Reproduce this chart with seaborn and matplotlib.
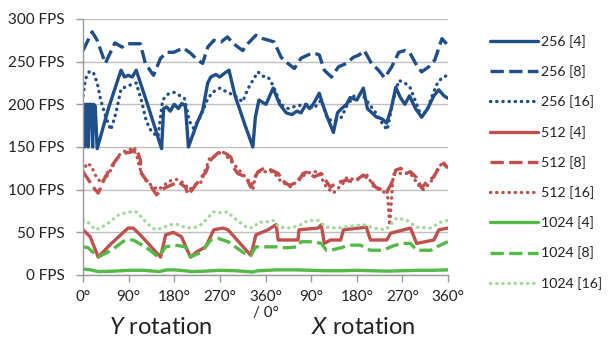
import matplotlib
matplotlib.use("Agg")
import matplotlib.pyplot as plt
import seaborn as sns

# ---- data (angle in degrees: 0-360 = Y rotation, 360-720 = X rotation) ----
deg_256_4 = [0, 3, 5, 8, 10, 12, 16, 19, 21, 24, 28, 50, 75, 82, 89, 97, 105, 130, 155, 159,
             165, 172, 180, 188, 195, 202, 208, 225, 236, 246, 252, 262, 270, 278, 288, 300,
             320, 335, 340, 347, 361, 375, 388, 401, 412, 422, 430, 440, 447, 454, 466, 474,
             482, 494, 502, 510, 520, 527, 540, 553, 561, 570, 579, 590, 599, 608, 617, 626,
             635, 644, 656, 668, 680, 692, 702, 712, 720]
fps_256_4 = [200, 150, 200, 200, 150, 200, 200, 150, 200, 198, 148, 195, 240, 232, 234, 232,
             240, 195, 148, 195, 197, 192, 200, 195, 201, 198, 150, 178, 193, 225, 232, 235,
             232, 236, 240, 210, 175, 150, 185, 205, 200, 219, 200, 190, 188, 192, 190, 200,
             195, 200, 213, 198, 185, 167, 190, 195, 200, 208, 205, 219, 195, 190, 185, 183,
             178, 195, 220, 208, 200, 210, 195, 185, 195, 210, 217, 210, 207]

deg_256_8 = [0, 18, 28, 44, 63, 77, 87, 103, 113, 123, 139, 153, 166, 179, 198, 212, 226, 236,
             246, 258, 272, 285, 297, 315, 325, 341, 355, 367, 377, 391, 404, 417, 430, 444,
             456, 466, 476, 490, 504, 520, 533, 545, 555, 569, 583, 595, 609, 623, 635, 645,
             658, 668, 682, 694, 708, 720]
fps_256_8 = [263, 285, 275, 248, 272, 267, 271, 271, 271, 248, 234, 254, 261, 261, 266, 260,
             252, 248, 267, 275, 273, 279, 271, 263, 271, 281, 277, 275, 273, 255, 248, 242,
             254, 258, 260, 258, 240, 232, 244, 248, 255, 258, 263, 248, 240, 231, 244, 261,
             263, 260, 246, 238, 244, 252, 277, 269]

deg_256_16 = [0, 5, 12, 20, 28, 35, 45, 55, 65, 75, 90, 105, 115, 125, 135, 148, 157, 168, 180,
              200, 210, 218, 232, 245, 255, 270, 285, 300, 315, 325, 335, 345, 355, 365, 375,
              390, 405, 420, 440, 455, 470, 482, 495, 510, 520, 535, 550, 565, 580, 590, 600,
              612, 623, 635, 645, 655, 668, 680, 690, 700, 710, 720]
fps_256_16 = [210, 230, 238, 238, 225, 205, 185, 170, 190, 218, 222, 225, 205, 180, 168, 162,
              205, 212, 214, 207, 180, 172, 186, 205, 214, 219, 214, 210, 203, 218, 228, 238,
              233, 232, 222, 200, 195, 198, 200, 195, 205, 183, 180, 185, 198, 210, 212, 200,
              188, 178, 170, 205, 228, 225, 220, 205, 185, 195, 212, 226, 232, 234]

deg_512_4 = [0, 14, 30, 56, 89, 99, 113, 153, 163, 178, 194, 212, 224, 242, 258, 276, 286, 331,
             341, 365, 381, 385, 405, 424, 426, 464, 470, 476, 488, 508, 514, 559, 567, 599,
             607, 646, 658, 692, 702, 720]
fps_512_4 = [53, 45, 21, 37, 55, 55, 47, 21, 47, 50, 45, 21, 27, 33, 53, 55, 53, 23, 47, 53,
             59, 41, 41, 41, 53, 55, 59, 37, 41, 41, 53, 56, 41, 41, 49, 55, 37, 41, 53, 55]

deg_512_8 = [0, 24, 30, 44, 56, 69, 83, 95, 105, 113, 115, 129, 145, 155, 165, 188, 202, 208,
             218, 234, 242, 252, 266, 278, 292, 297, 305, 321, 331, 337, 345, 357, 371, 385,
             397, 407, 424, 434, 444, 456, 470, 482, 488, 500, 520, 533, 553, 567, 577, 589,
             599, 609, 617, 627, 637, 646, 658, 668, 678, 692, 702, 712, 720]
fps_512_8 = [121, 100, 96, 115, 127, 138, 143, 144, 149, 135, 119, 108, 94, 100, 103, 109, 103,
             94, 102, 115, 120, 135, 143, 144, 138, 126, 119, 115, 103, 111, 121, 125, 123, 119,
             109, 105, 109, 119, 121, 115, 119, 108, 103, 108, 111, 109, 117, 111, 103, 100, 97,
             108, 123, 125, 119, 121, 114, 102, 109, 115, 126, 131, 125]

deg_512_16 = [0, 8, 16, 26, 36, 50, 70, 85, 98, 106, 112, 122, 135, 148, 158, 170, 185, 198,
              210, 222, 232, 250, 264, 274, 282, 296, 326, 331, 335, 341, 347, 357, 375, 390,
              410, 430, 450, 464, 480, 494, 514, 520, 540, 550, 558, 574, 584, 594, 600, 605,
              612, 627, 646, 666, 672, 686, 697, 708, 720]
fps_512_16 = [121, 131, 128, 115, 108, 118, 140, 146, 148, 140, 125, 112, 105, 100, 104, 110,
              112, 108, 100, 106, 108, 137, 140, 146, 140, 131, 111, 103, 100, 119, 121, 121,
              121, 110, 103, 115, 121, 121, 103, 96, 108, 114, 111, 115, 119, 103, 100, 97, 100,
              58, 118, 119, 119, 102, 100, 109, 121, 131, 126]

deg_1024_4 = [0, 15, 30, 60, 90, 120, 150, 165, 180, 200, 215, 240, 270, 300, 335, 345, 365, 380,
              420, 450, 480, 510, 540, 570, 600, 630, 660, 690, 720]
fps_1024_4 = [7, 6, 4, 4.5, 5.5, 5.5, 4, 6, 6, 5, 4, 4.5, 5.5, 5, 3.5, 5, 5.5, 6, 6, 5.5, 5, 5,
              5.5, 5, 4.5, 5, 5.5, 5.5, 6]

deg_1024_8 = [0, 10, 30, 56, 83, 99, 123, 149, 163, 182, 202, 212, 234, 252, 266, 286, 317, 331,
              341, 365, 381, 387, 405, 424, 430, 456, 470, 480, 488, 510, 524, 547, 567, 593,
              607, 627, 646, 658, 686, 698, 712, 720]
fps_1024_8 = [33, 32, 21, 29, 41, 41, 33, 21, 33, 35, 33, 21, 27, 41, 43, 39, 26, 23, 33, 33, 33,
              32, 32, 33, 39, 39, 37, 29, 29, 32, 35, 35, 29, 29, 33, 37, 37, 29, 29, 33, 37, 39]

deg_1024_16 = [0, 10, 24, 34, 50, 69, 89, 105, 115, 129, 143, 155, 173, 188, 204, 222, 236, 246,
               258, 272, 286, 295, 311, 325, 337, 347, 361, 375, 387, 410, 430, 444, 464, 480,
               500, 527, 553, 573, 597, 607, 619, 639, 658, 686, 706, 720]
fps_1024_16 = [64, 62, 53, 55, 61, 70, 74, 74, 68, 59, 53, 55, 59, 59, 55, 56, 60, 67, 74, 73,
               74, 68, 61, 55, 56, 62, 62, 64, 56, 55, 59, 64, 64, 56, 55, 57, 59, 55, 53, 59,
               67, 64, 56, 55, 62, 64]

tick_pos = [0, 90, 180, 270, 360, 450, 540, 630, 720]
tick_labels = ["0°", "90°", "180°", "270°", "360°\n/ 0°", "90°", "180°", "270°", "360°"]
ytick_pos = [0, 50, 100, 150, 200, 250, 300]

BLUE = "#1F4E89"
RED = "#C0504D"
GREEN = "#55B947"
LGREEN = "#A3D99A"

SOLID = "-"
DASH = (0, (4.0, 1.6))
DOT = (0, (0.1, 1.75))

series = [
    ("256 [4]", deg_256_4, fps_256_4, BLUE, SOLID),
    ("256 [8]", deg_256_8, fps_256_8, BLUE, DASH),
    ("256 [16]", deg_256_16, fps_256_16, BLUE, DOT),
    ("512 [4]", deg_512_4, fps_512_4, RED, SOLID),
    ("512 [8]", deg_512_8, fps_512_8, RED, DASH),
    ("512 [16]", deg_512_16, fps_512_16, RED, DOT),
    ("1024 [4]", deg_1024_4, fps_1024_4, GREEN, SOLID),
    ("1024 [8]", deg_1024_8, fps_1024_8, GREEN, DASH),
    ("1024 [16]", deg_1024_16, fps_1024_16, LGREEN, DOT),
]

sns.set_style("white")
plt.rcParams["font.family"] = ["Lato", "DejaVu Sans"]
plt.rcParams["mathtext.fontset"] = "custom"
plt.rcParams["mathtext.it"] = "Lato:italic"
plt.rcParams["mathtext.rm"] = "Lato"

fig = plt.figure(figsize=(6.08, 3.40), dpi=100)
ax = fig.add_axes([83 / 608, 1 - 275 / 340, (448 - 83) / 608, (275 - 19) / 340])

for name, xs, ys, col, ls in series:
    cap = "round" if ls == DOT else "butt"
    sns.lineplot(x=xs, y=ys, ax=ax, color=col, linestyle=ls, linewidth=2.4,
                 label=name, dash_capstyle=cap, solid_capstyle="round")

ax.set_xlim(0, 720)
ax.set_ylim(0, 300)
ax.set_xticks(tick_pos)
ax.set_xticklabels(tick_labels, fontsize=11, linespacing=1.15)
ax.set_yticks(ytick_pos)
ax.set_yticklabels([f"{v} FPS" for v in ytick_pos], fontsize=11)
ax.grid(axis="y", color="#C0C0C0", linewidth=1)
ax.set_axisbelow(True)
for s in ["top", "right"]:
    ax.spines[s].set_visible(False)
for s in ["left", "bottom"]:
    ax.spines[s].set_color("#9A9A9A")
    ax.spines[s].set_linewidth(1)
ax.tick_params(axis="both", direction="out", length=5, color="#9A9A9A", width=1,
               colors="#222222", labelcolor="#222222")
ax.tick_params(axis="y", pad=8)
ax.tick_params(axis="x", pad=6, bottom=True)
ax.tick_params(axis="y", left=True)

leg = ax.legend(loc="upper left", bbox_to_anchor=(490 / 608, 1 - 35 / 340),
                bbox_transform=fig.transFigure, frameon=False, fontsize=10.2,
                handlelength=3.4, handletextpad=0.2, labelspacing=1.22, borderaxespad=0,
                borderpad=0)
for t in leg.get_texts():
    t.set_color("#222222")

fig.text(161 / 608, 1 - 328 / 340, r"$Y$ rotation", fontsize=17, ha="center", va="center",
         color="#222222")
fig.text(363 / 608, 1 - 327 / 340, r"$X$ rotation", fontsize=17, ha="center", va="center",
         color="#222222")

fig.savefig("out.png", dpi=100)
